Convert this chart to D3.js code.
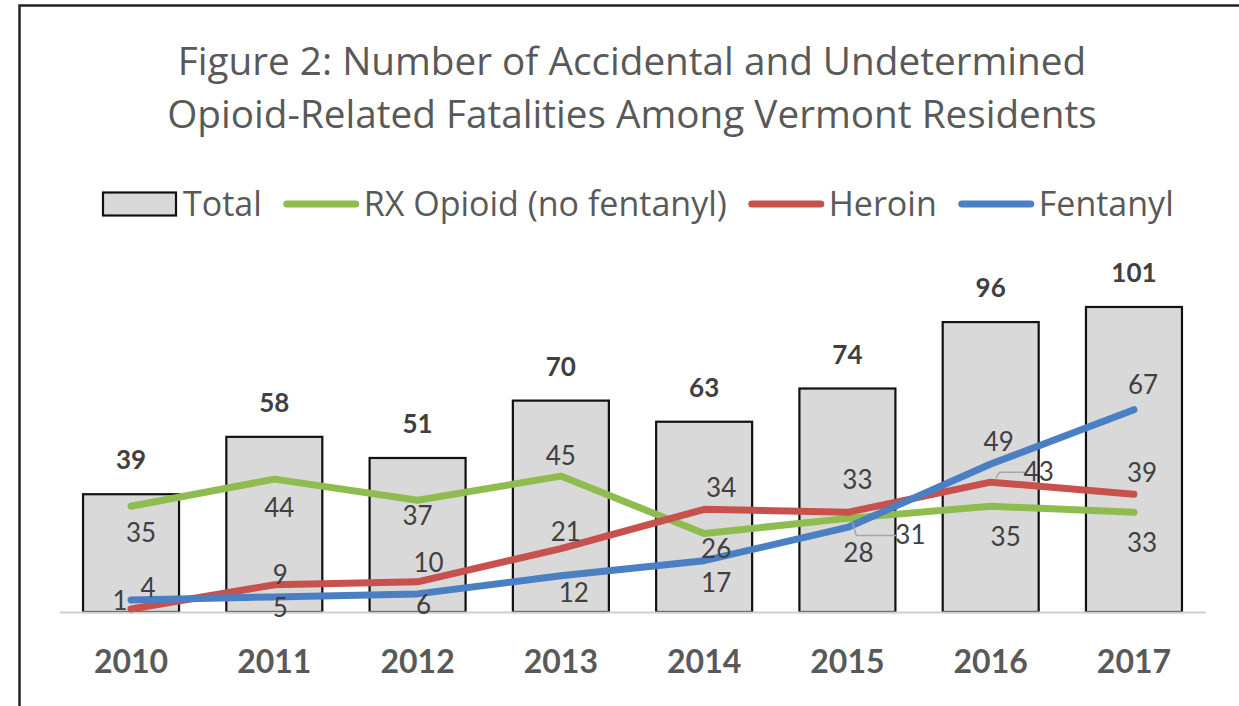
<!DOCTYPE html>
<html>
<head>
<meta charset="utf-8">
<script src="https://cdn.jsdelivr.net/npm/d3@7"></script>
<style>
    body { margin: 0; background: #fff; }
    svg { display: block; font-family: Lato, 'Open Sans', sans-serif; }
</style>
</head>
<body>
<script>
// ====================== DATA ======================
const years = ['2010', '2011', '2012', '2013', '2014', '2015', '2016', '2017']
const totals = [39, 58, 51, 70, 63, 74, 96, 101]
const rxOpioid = [35, 44, 37, 45, 26, 31, 35, 33]
const heroin = [1, 9, 10, 21, 34, 33, 43, 39]
const fentanyl = [4, 5, 6, 12, 17, 28, 49, 67]
const titleLines = ['Figure 2: Number of Accidental and Undetermined',
    'Opioid-Related Fatalities Among Vermont Residents']

// label offsets (px) from each point, like the hand placed labels in the original
const rxLabelPos = [[10, 27], [5, 29], [0, 16], [0, -20], [12, 15], [63, 17], [15, 31], [8, 31]]
const heroinLabelPos = [[-11, -8], [6, -10], [11, -19], [5, -17], [17, -21], [10, -32], [48, -10], [8, -21]]
const fentanylLabelPos = [[17, -12], [6, 11], [6, 11], [13, 17], [12, 22], [11, 25], [8, -22], [9, -25]]

const series = [
    { name: 'RX Opioid (no fentanyl)', values: rxOpioid, color: '#8fbc4f', pos: rxLabelPos },
    { name: 'Heroin', values: heroin, color: '#c8504d', pos: heroinLabelPos },
    { name: 'Fentanyl', values: fentanyl, color: '#4a7fc4', pos: fentanylLabelPos }
]

const width = 1239, height = 706
const plot = { left: 59.4, right: 1205.6, bottom: 612 }
const textFont = "'Open Sans', sans-serif"

const svg = d3.select('body').append('svg')
    .attr('width', width)
    .attr('height', height)

// frame (left and top edge only, picture is cropped)
svg.append('path')
    .attr('d', 'M19.5,' + height + 'V5.5H' + width)
    .attr('fill', 'none')
    .attr('stroke', '#222')
    .attr('stroke-width', 2.5)

// ====================== TITLE ======================
svg.append('g').selectAll('text')
    .data(titleLines)
    .enter().append('text')
    .attr('x', 632)
    .attr('y', (d, i) => 75 + i * 53)
    .attr('text-anchor', 'middle')
    .attr('font-family', textFont)
    .attr('font-size', 38.7)
    .attr('fill', '#595959')
    .text(d => d)

// ====================== SCALES ======================
const x = d3.scaleBand()
    .domain(years)
    .range([plot.left, plot.right])
    .paddingInner(0.33)
    .paddingOuter(0.165)

const y = d3.scaleLinear()
    .domain([0, 120])
    .range([plot.bottom, plot.bottom - 362.4])

const cx = d => x(d) + x.bandwidth() / 2

// ====================== BARS ======================
svg.append('g')
    .selectAll('rect')
    .data(years)
    .enter().append('rect')
    .attr('x', d => x(d))
    .attr('y', (d, i) => y(totals[i]))
    .attr('width', x.bandwidth())
    .attr('height', (d, i) => y(0) - y(totals[i]))
    .attr('fill', '#d9d9d9')
    .attr('stroke', '#111')
    .attr('stroke-width', 2.2)

svg.append('g')
    .selectAll('text')
    .data(years)
    .enter().append('text')
    .attr('x', d => cx(d))
    .attr('y', (d, i) => y(totals[i]) - 34)
    .attr('dy', '0.35em')
    .attr('text-anchor', 'middle')
    .attr('font-size', 26)
    .attr('font-weight', 'bold')
    .attr('fill', '#404040')
    .text((d, i) => totals[i])

// ====================== AXIS ======================
const xAxis = svg.append('g')
    .attr('transform', 'translate(0,' + plot.bottom + ')')
    .call(d3.axisBottom(x).tickSize(0).tickSizeOuter(0).tickPadding(38))
xAxis.select('.domain')
    .attr('stroke', '#d0d0d0')
    .attr('stroke-width', 2)
xAxis.selectAll('text')
    .attr('font-family', 'Lato, sans-serif')
    .attr('font-size', 32)
    .attr('font-weight', 'bold')
    .attr('fill', '#595959')

// ====================== LINES ======================
const line = d3.line()
    .x((d, i) => cx(years[i]))
    .y(d => y(d))

svg.append('g')
    .selectAll('path')
    .data(series)
    .enter().append('path')
    .attr('d', d => line(d.values))
    .attr('fill', 'none')
    .attr('stroke', d => d.color)
    .attr('stroke-width', 7)
    .attr('stroke-linejoin', 'round')
    .attr('stroke-linecap', 'round')

// leader lines for labels pulled away from their point
const leaders = []
series.forEach(s => {
    s.values.forEach((v, i) => {
        if (Math.abs(s.pos[i][0]) > 30) {
            const px = cx(years[i]), py = y(v)
            const lx = px + s.pos[i][0], ly = py + s.pos[i][1]
            const up = ly < py ? -1 : 1
            leaders.push([[px + 5, py + up * 4], [px + 9, ly], [lx - 14, ly]])
        }
    })
})
svg.append('g')
    .selectAll('path')
    .data(leaders)
    .enter().append('path')
    .attr('d', d => d3.line()(d))
    .attr('fill', 'none')
    .attr('stroke', '#a6a6a6')
    .attr('stroke-width', 1.5)

const labelGroups = svg.append('g')
    .selectAll('g')
    .data(series)
    .enter().append('g')

labelGroups.selectAll('text')
    .data(s => s.values.map((v, i) => ({ v: v, year: years[i], pos: s.pos[i] })))
    .enter().append('text')
    .attr('x', d => cx(d.year) + d.pos[0])
    .attr('y', d => y(d.v) + d.pos[1])
    .attr('dy', '0.35em')
    .attr('text-anchor', 'middle')
    .attr('font-size', 26)
    .attr('fill', '#404040')
    .text(d => d.v)

// ====================== LEGEND ======================
const legend = svg.append('g')
    .attr('class', 'legend')
    .attr('transform', 'translate(103, 204)')

const legendItems = [{ name: 'Total', type: 'box' }].concat(series.map(s => ({ name: s.name, type: 'line', color: s.color })))
let lx = 0
legendItems.forEach(item => {
    if (item.type == 'box') {
        legend.append('rect')
            .attr('x', lx)
            .attr('y', -11.5)
            .attr('width', 73)
            .attr('height', 23)
            .attr('fill', '#d9d9d9')
            .attr('stroke', '#111')
            .attr('stroke-width', 2.2)
    } else {
        legend.append('line')
            .attr('x1', lx + 3)
            .attr('x2', lx + 72)
            .attr('y1', 0)
            .attr('y2', 0)
            .attr('stroke', item.color)
            .attr('stroke-width', 7)
            .attr('stroke-linecap', 'round')
    }
    const t = legend.append('text')
        .attr('x', lx + 80)
        .attr('y', 0)
        .attr('dy', '0.35em')
        .attr('font-family', textFont)
        .attr('font-size', 34)
        .attr('fill', '#595959')
        .text(item.name)
    lx = lx + 80 + t.node().getComputedTextLength() + 22
})
</script>
</body>
</html>
